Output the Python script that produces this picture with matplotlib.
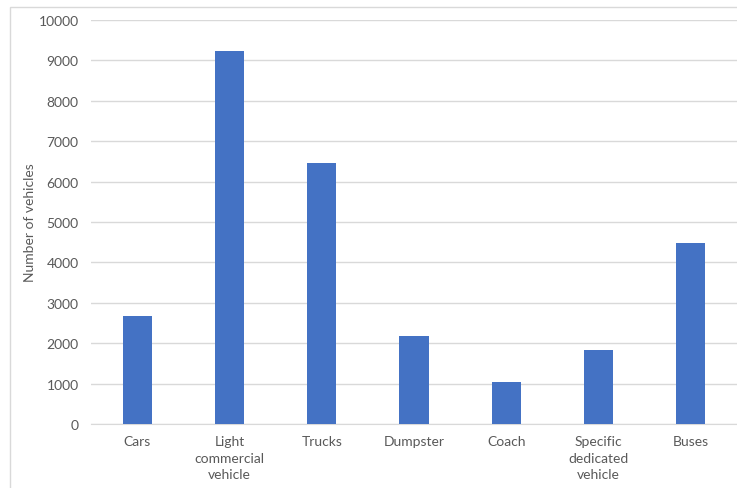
import matplotlib.pyplot as plt
from matplotlib.patches import Rectangle

categories = ['Cars', 'Light\ncommercial\nvehicle', 'Trucks', 'Dumpster',
              'Coach', 'Specific\ndedicated\nvehicle', 'Buses']
vehicles = [2680, 9240, 6450, 2170, 1030, 1830, 4480]
yticks = list(range(0, 10001, 1000))

plt.rcParams['font.family'] = ['Lato', 'DejaVu Sans']
text_color = '#595959'
grid_color = '#d9d9d9'

fig = plt.figure(figsize=(7.37, 4.89), dpi=100)
ax = fig.add_axes([91 / 737, 1 - 425 / 489, 646 / 737, 404 / 489])

# outer chart border (only top/left visible in the crop)
fig.patches.append(Rectangle((9.5 / 737, -0.1), 1.2, 1.1 - 7.5 / 489,
                             transform=fig.transFigure, fill=False,
                             edgecolor=grid_color, linewidth=1))

x = range(len(categories))
ax.bar(x, vehicles, width=0.315, color='#4472C4', zorder=3)

ax.set_xlim(-0.5, len(categories) - 0.5)
ax.set_ylim(0, 10000)
ax.set_yticks(yticks)
ax.set_xticks(list(x))
ax.set_xticklabels(categories, linespacing=1.45)
ax.tick_params(length=0, labelsize=10, colors=text_color)
ax.tick_params(axis='y', pad=9)
ax.tick_params(axis='x', pad=8)
ax.grid(axis='y', color=grid_color, linewidth=1, zorder=0)
for s in ['top', 'right', 'left']:
    ax.spines[s].set_visible(False)
ax.spines['bottom'].set_color(grid_color)
ax.set_ylabel('Number of vehicles', fontsize=10, color=text_color, labelpad=2)

fig.savefig('out.png', dpi=100)
